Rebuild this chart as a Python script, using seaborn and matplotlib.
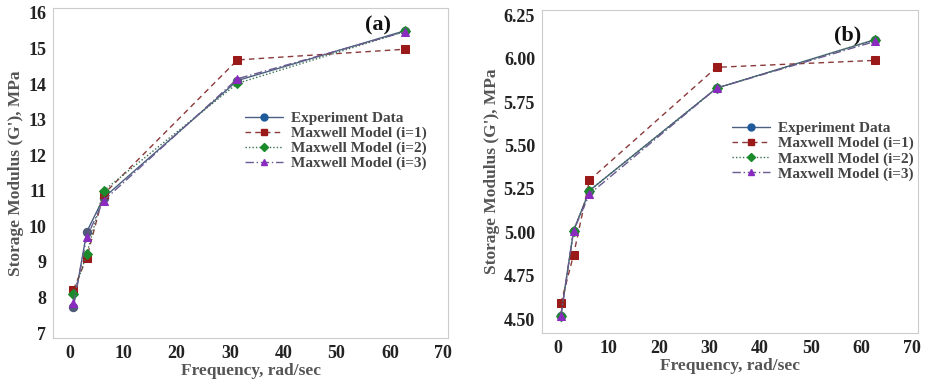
import matplotlib
matplotlib.use("Agg")
import matplotlib.pyplot as plt
import seaborn as sns
import pandas as pd
from matplotlib.lines import Line2D

sns.set_style("white")
plt.rcParams['font.family'] = ['Liberation Serif', 'DejaVu Serif']
plt.rcParams['font.weight'] = 'bold'

freq = [0.628, 3.14, 6.28, 31.4, 62.8]
series_names = ["Experiment Data", "Maxwell Model (i=1)", "Maxwell Model (i=2)", "Maxwell Model (i=3)"]

a_exp = [7.72, 9.85, 10.80, 14.10, 15.50]
a_m1 = [8.22, 9.12, 10.90, 14.68, 14.98]
a_m2 = [8.10, 9.22, 11.00, 14.02, 15.48]
a_m3 = [7.85, 9.70, 10.72, 14.15, 15.47]

b_exp = [4.52, 5.01, 5.24, 5.83, 6.11]
b_m1 = [4.59, 4.87, 5.30, 5.95, 5.99]
b_m2 = [4.52, 5.01, 5.24, 5.83, 6.11]
b_m3 = [4.52, 5.01, 5.22, 5.83, 6.10]

a_yticks = [7, 8, 9, 10, 11, 12, 13, 14, 15, 16]
b_yticks = [4.50, 4.75, 5.00, 5.25, 5.50, 5.75, 6.00, 6.25]
xticks = [0, 10, 20, 30, 40, 50, 60, 70]

styles = [
    dict(line="#4a6080", mk="#505a78", lmk="#1f5a9a", ls="-", marker="o", ms=6),
    dict(line="#8a3a3a", mk="#9a1a1a", lmk="#9a1a1a", ls=(0, (4, 3)), marker="s", ms=6),
    dict(line="#3a7050", mk="#1a8a2a", lmk="#1a8a2a", ls=(0, (1, 1.5)), marker="D", ms=5),
    dict(line="#6a5a90", mk="#8a2ac0", lmk="#8a2ac0", ls=(0, (6, 2, 1, 2)), marker="^", ms=6),
]

fig = plt.figure(figsize=(9.25, 3.83), dpi=100)
ax1 = fig.add_axes([53/925, 1-338/383, 395/925, 330/383])
ax2 = fig.add_axes([542/925, 1-333/383, 376/925, 323/383])

def draw(ax, data, yticks, ylim, xlim, fmt, label, labpos, legpos):
    for name, vals, st in zip(series_names, data, styles):
        df = pd.DataFrame({"x": freq, "y": vals})
        sns.lineplot(data=df, x="x", y="y", ax=ax, color=st["line"], linestyle=st["ls"],
                     linewidth=1.0, marker=st["marker"], markersize=st["ms"],
                     markerfacecolor=st["mk"], markeredgecolor=st["mk"], zorder=3)
    ax.set_xlim(*xlim)
    ax.set_ylim(*ylim)
    ax.set_xticks(xticks)
    ax.set_yticks(yticks)
    ax.set_yticklabels([fmt.format(v) for v in yticks])
    ax.tick_params(axis='both', labelsize=13, labelcolor="#222222", length=3, width=0.8,
                   pad=2, direction='out', color="#999999")
    for lab in ax.get_xticklabels() + ax.get_yticklabels():
        lab.set_fontweight('bold')
    for sp in ax.spines.values():
        sp.set_color("#cccccc")
        sp.set_linewidth(0.8)
    ax.set_xlabel("Frequency, rad/sec", fontsize=12.5, fontweight='bold', color="#555555", labelpad=1)
    ax.set_ylabel("Storage Modulus (G'), MPa", fontsize=12.5, fontweight='bold', color="#555555", labelpad=3)
    ax.text(labpos[0], labpos[1], label, fontsize=16, fontweight='bold', ha='center', va='center', color="#111111")
    handles = [Line2D([0], [0], color=st["line"], linestyle=st["ls"], linewidth=1.0,
                      marker=st["marker"], markersize=st["ms"] - 1,
                      markerfacecolor=st["lmk"], markeredgecolor=st["lmk"]) for st in styles]
    ax.legend(handles, series_names, loc='center left', bbox_to_anchor=legpos,
              frameon=False, handlelength=2.5, handletextpad=0.5, labelspacing=0.08,
              borderaxespad=0, borderpad=0,
              prop={'weight': 'bold', 'size': 11}, labelcolor="#444444")

draw(ax1, [a_exp, a_m1, a_m2, a_m3], a_yticks, (6.86, 16.14), (-3.2, 70.9), "{:g}", "(a)",
     (57.8, 15.66), (0.486, 0.597))
draw(ax2, [b_exp, b_m1, b_m2, b_m3], b_yticks, (4.42, 6.28), (-3.1, 71.2), "{:.2f}", "(b)",
     (57.2, 6.135), (0.505, 0.563))

fig.savefig("out.png", dpi=100)
